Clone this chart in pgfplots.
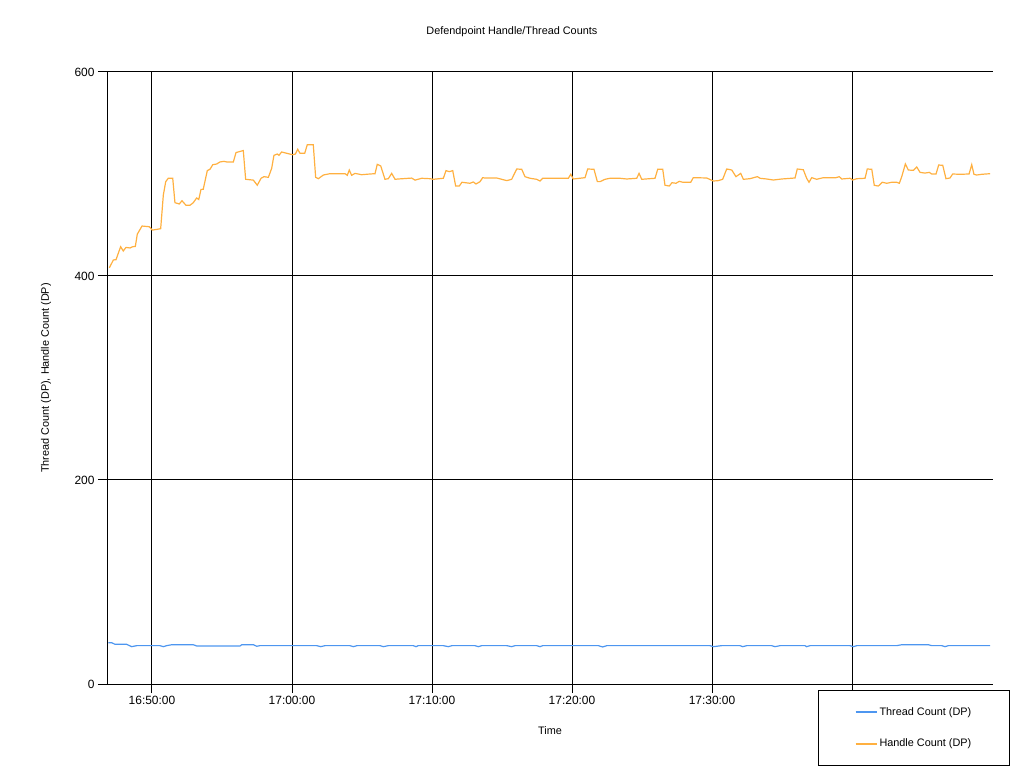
\documentclass[border=0pt]{standalone}
\usepackage{pgfplots}
\pgfplotsset{compat=1.18}
\usepackage{fontspec}
\setmainfont{Liberation Sans}
\definecolor{threadc}{RGB}{77,150,240}
\definecolor{handlec}{RGB}{255,176,64}
\begin{document}
\begin{tikzpicture}[font=\fontsize{10.9}{12}\selectfont]
\useasboundingbox (0,0) rectangle (1024bp,768bp);
\begin{axis}[
  at={(107bp,84bp)}, anchor=south west,
  width=886bp, height=612bp, scale only axis,
  xmin=-3.214, xmax=60.07, ymin=0, ymax=600,
  axis lines*=left,
  axis line style={black, line width=1bp},
  xtick={0,10,20,30,40,50},
  xticklabels={16:50:00,17:00:00,17:10:00,17:20:00,17:30:00,{}},
  ytick={0,200,400,600},
  tick align=outside,
  major tick length=9bp,
  tick style={black, line width=1bp},
  grid=major,
  grid style={black, line width=1bp},
  /pgf/number format/assume math mode=true,
  tick label style={font=\fontsize{12}{13}\selectfont},
  title={Defendpoint Handle/Thread Counts},
  title style={at={(axis description cs:0.457,1.0556)}, anchor=center},
  xlabel={Time},
  xlabel style={at={(axis description cs:0.5,-0.0768)}, anchor=center},
  ylabel={Thread Count (DP), Handle Count (DP)},
  ylabel style={at={(axis description cs:-0.0688,0.5)}, anchor=center, rotate=0},
  legend style={at={(axis description cs:0.8025,-0.0098)}, anchor=north west,
    draw=black, line width=1bp, fill=white, inner xsep=36bp, inner ysep=15bp,
    row sep=18bp, font=\fontsize{10.9}{12}\selectfont},
  legend cell align=left,
  legend image code/.code={\draw[#1, line width=2bp] (0bp,0bp) -- (21bp,0bp);},
]
\addplot[threadc, line width=1.2bp] coordinates {
(-3.12,40.5) (-2.88,40.5) (-2.64,38.9) (-1.81,38.9) (-1.45,36.6) (-1.09,37.6)
(0.57,37.6) (0.81,36.6) (1.05,37.6) (1.41,38.5) (2.95,38.5) (3.19,37.3)
(6.29,37.3) (6.41,38.5) (7.24,38.5) (7.48,37) (7.71,37.6) (11.76,37.6)
(12.05,36.6) (12.36,37.6) (14.14,37.6) (14.38,36.6) (14.64,37.6) (16.29,37.6)
(16.52,36.6) (16.88,37.6) (18.66,37.6) (18.86,36.6) (19.02,37.6) (20.81,37.6)
(21.16,36.6) (21.43,37.6) (23.07,37.6) (23.31,36.6) (23.55,37.6) (25.34,37.6)
(25.69,36.6) (25.93,37.6) (27.48,37.6) (27.71,36.6) (27.91,37.6) (31.88,37.6)
(32.19,36.3) (32.48,37.6) (39.86,37.6) (40.09,36.6) (40.69,37.6) (42.0,37.6)
(42.19,36.6) (42.48,37.6) (44.26,37.6) (44.5,36.6) (44.86,37.6) (46.64,37.6)
(46.76,36.6) (47.0,37.6) (49.86,37.6) (50.09,36.6) (50.34,37.6) (53.19,37.6)
(53.55,38.5) (55.45,38.5) (55.69,37.6) (56.41,37.6) (56.64,36.6) (56.88,37.6)
(59.86,37.6)
};
\addlegendentry{Thread Count (DP)\hspace{28bp}}
\addplot[handlec, line width=1.2bp] coordinates {
(-3.05,408) (-2.76,415.7) (-2.57,416) (-2.24,428.7) (-2.05,424.5) (-1.86,428)
(-1.57,427.5) (-1.38,428.7) (-1.19,429) (-1.05,441) (-0.71,449) (-0.19,448.3)
(0.02,445) (0.34,445.7) (0.62,446.4) (0.81,479.4) (0.98,492.5) (1.16,495.8)
(1.48,495.8) (1.64,471.9) (1.95,470.6) (2.14,473.8) (2.43,469.3) (2.71,469.3)
(2.95,471.9) (3.19,476.5) (3.34,475) (3.5,484.9) (3.66,485) (3.95,503.3)
(4.14,504.6) (4.34,509.1) (4.62,509.8) (4.86,511.8) (5.14,512.4) (5.34,511.8)
(5.81,511.8) (6.0,521) (6.52,523) (6.69,494.8) (7.24,494) (7.52,489)
(7.79,495.8) (8.0,497.4) (8.31,496.7) (8.55,505.6) (8.71,518.3) (8.95,519.6)
(9.07,518.3) (9.26,521.6) (9.62,520.3) (10.05,518.9) (10.24,519.6) (10.41,524.2)
(10.57,520.3) (10.91,520.3) (11.09,528.7) (11.52,528.7) (11.69,496.7) (11.88,495.4)
(12.24,499) (12.71,500.3) (13.79,500.3) (13.95,498.7) (14.09,503.9) (14.26,498.7)
(14.5,500.6) (14.98,499.3) (15.57,500) (15.93,500.3) (16.09,509.5) (16.34,507.8)
(16.64,494.8) (16.88,495.4) (17.12,500.6) (17.36,494.8) (17.59,495.1) (18.55,496)
(18.79,494) (19.26,495.8) (19.86,495.4) (20.09,494.8) (20.81,495.8) (21.0,503.3)
(21.24,502.3) (21.48,503.3) (21.69,488.2) (21.95,488.2) (22.14,491.9) (22.71,490.9)
(22.95,492.2) (23.14,490.2) (23.43,492.5) (23.62,496.4) (23.76,496.1) (24.62,496.1)
(25.34,493.5) (25.69,494.8) (26.05,504.9) (26.41,504.6) (26.64,497.4) (27.0,495.8)
(27.48,494.8) (27.71,493.1) (27.91,495.8) (29.74,495.8) (29.91,499.7) (30.09,495.1)
(30.93,496.4) (31.12,504.9) (31.57,504.6) (31.81,492.5) (32.0,492.5) (32.36,494.8)
(32.71,495.8) (33.43,495.8) (33.91,495.1) (34.62,495.8) (34.79,500.6) (34.98,494.8)
(35.93,495.8) (36.12,504.6) (36.48,504.6) (36.64,489) (36.95,488.2) (37.14,491.5)
(37.43,490.9) (37.66,492.8) (37.91,491.9) (38.48,491.9) (38.66,496.4) (39.62,496.1)
(40.09,493.1) (40.45,493.5) (40.76,494.8) (41.05,504.9) (41.41,503.9) (41.71,497.4)
(42.05,500.6) (42.24,494.8) (42.71,495.4) (43.24,497.4) (43.43,495.8) (43.91,495.1)
(44.38,494.1) (44.98,495.1) (45.93,496.1) (46.09,504.9) (46.52,504.2) (46.76,495.8)
(46.93,491.9) (47.12,496.4) (47.48,494.8) (47.95,496.4) (48.86,496.4) (49.09,497.4)
(49.26,495.1) (49.86,495.8) (50.05,494.1) (50.34,495.4) (50.93,495.8) (51.09,504.9)
(51.41,504.6) (51.59,488.9) (51.88,488.2) (52.16,491.9) (52.48,490.9) (52.84,491.9)
(53.19,491.9) (53.38,490.9) (53.55,497.4) (53.81,509.8) (54.02,503.9) (54.38,503.6)
(54.62,506.9) (54.86,501.6) (55.21,500.9) (55.52,501.6) (55.69,500) (56.0,500)
(56.19,508.8) (56.48,508.5) (56.71,495.4) (57.0,496.1) (57.19,500) (57.71,499.7)
(58.36,500) (58.55,509.1) (58.71,499.7) (58.9,499) (59.26,499.7) (59.86,500.3)
};
\addlegendentry{Handle Count (DP)\hspace{28bp}}
\end{axis}
\end{tikzpicture}
\end{document}
